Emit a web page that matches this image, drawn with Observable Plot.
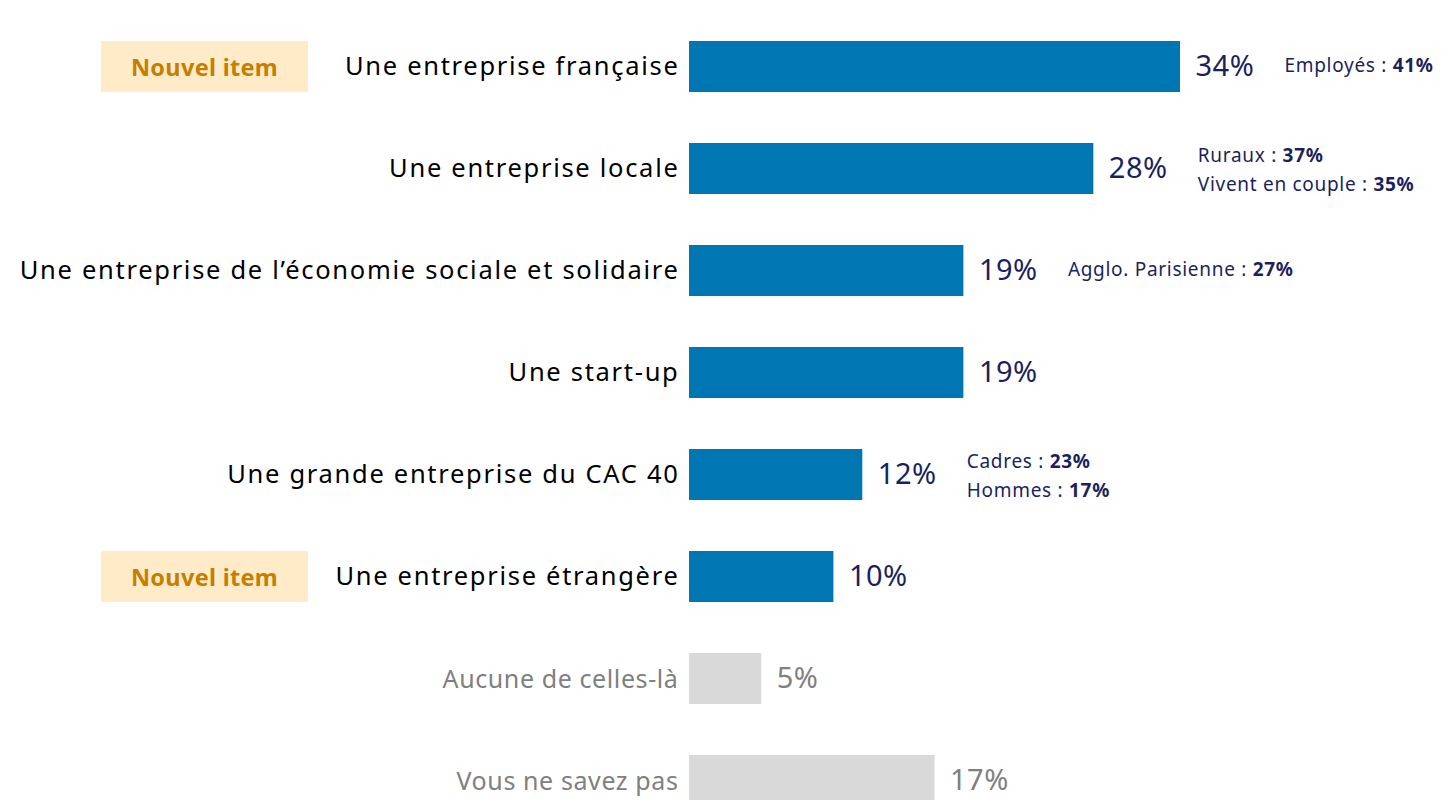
<!DOCTYPE html>
<html>
<head>
<meta charset="utf-8">
<script src="https://cdn.jsdelivr.net/npm/d3@7"></script>
<script src="https://cdn.jsdelivr.net/npm/@observablehq/plot@0.6"></script>
<style>
  html, body { margin: 0; padding: 0; background: #ffffff; overflow: hidden; }
  #chart svg { display: block; }
  #chart .cat text { letter-spacing: 1.7px; }
  #chart .catgrey text { letter-spacing: 0.6px; }
  #chart .val text { letter-spacing: 0.5px; }
  #chart .annot text { letter-spacing: 0.7px; }
  #chart .badge text { letter-spacing: 0.3px; }
</style>
</head>
<body>
<div id="chart"></div>
<script>
// ---- Data ----
const categories = [
  "Une entreprise française",
  "Une entreprise locale",
  "Une entreprise de l’économie sociale et solidaire",
  "Une start-up",
  "Une grande entreprise du CAC 40",
  "Une entreprise étrangère",
  "Aucune de celles-là",
  "Vous ne savez pas"
];
const values = [34, 28, 19, 19, 12, 10, 5, 17];
const isItem = [true, true, true, true, true, true, false, false];

const newItems = ["Une entreprise française", "Une entreprise étrangère"];
const badgeText = "Nouvel item";

const annotCategory = [
  "Une entreprise française",
  "Une entreprise locale",
  "Une entreprise locale",
  "Une entreprise de l’économie sociale et solidaire",
  "Une grande entreprise du CAC 40",
  "Une grande entreprise du CAC 40"
];
const annotLabel = ["Employés", "Ruraux", "Vivent en couple", "Agglo. Parisienne", "Cadres", "Hommes"];
const annotValue = [41, 37, 35, 27, 23, 17];

// ---- Tables ----
const rows = categories.map((c, i) => ({category: c, value: values[i], item: isItem[i]}));
const valueOf = new Map(rows.map(r => [r.category, r.value]));
const annots = annotCategory.map((c, i) => {
  const sameCat = annotCategory.filter(d => d === c).length;
  const lineIdx = annotCategory.slice(0, i).filter(d => d === c).length;
  return {category: c, label: annotLabel[i], value: annotValue[i], x: valueOf.get(c),
          offset: lineIdx - (sameCat - 1) / 2};
});

const BLUE = "#0077B3", GREY_BAR = "#D9D9D9", NAVY = "#1B1F5E", GREY_TXT = "#808080";
const FONT = "Noto Sans, sans-serif";

const plot = Plot.plot({
  width: 1445,
  height: 800,
  marginLeft: 689,
  marginRight: 265,
  marginTop: 0,
  marginBottom: 0,
  style: {fontFamily: FONT, background: "#ffffff"},
  x: {domain: [0, 34], axis: null},
  y: {domain: categories, range: [15.5, 831.5], paddingInner: 0.5, paddingOuter: 0.25, axis: null},
  marks: [
    Plot.barX(rows.filter(d => d.item), {x: "value", y: "category", fill: BLUE}),
    Plot.barX(rows.filter(d => !d.item), {x: "value", y: "category", fill: GREY_BAR}),
    // category labels
    Plot.text(rows.filter(d => d.item), {
      y: "category", text: "category", frameAnchor: "left", textAnchor: "end", dx: -10,
      fontSize: 25.5, fill: "#000000", ariaDescription: "cat"
    }),
    Plot.text(rows.filter(d => !d.item), {
      y: "category", text: "category", frameAnchor: "left", textAnchor: "end", dx: -11, dy: 1,
      fontSize: 25, fill: GREY_TXT, ariaDescription: "catgrey"
    }),
    // value labels
    Plot.text(rows, {
      x: "value", y: "category", text: d => d.value + "%", textAnchor: "start", dx: 15,
      fontSize: 29, fill: d => d.item ? NAVY : GREY_TXT, ariaDescription: "val"
    }),
    // annotations
    Plot.text(annots, {
      x: "x", y: "category", text: d => d.label + " : ", textAnchor: "start", dx: 104,
      fontSize: 19, fill: NAVY, ariaDescription: "annot"
    }),
    // badges
    Plot.text(newItems, {
      y: d => d, text: () => badgeText, frameAnchor: "left", textAnchor: "middle", dx: -485, dy: 1,
      fontSize: 23.5, fontWeight: "bold", fill: "#C47F00", ariaDescription: "badge"
    })
  ]
});

document.getElementById("chart").appendChild(plot);

const svg = d3.select(plot);
["cat", "catgrey", "val", "annot", "badge"].forEach(name => {
  svg.selectAll(`g[aria-description='${name}']`).classed(name, true);
});

// offset annotation lines and add bold values
svg.selectAll("g.annot text").each(function(d, k) {
  const i = typeof d === "number" ? d : k;
  const a = annots[i];
  const el = d3.select(this);
  el.text(null);
  el.append("tspan").text(a.label + " : ");
  el.append("tspan").attr("font-weight", "bold").text(a.value + "%");
  const t = el.attr("transform") || "";
  el.attr("transform", t + ` translate(0,${a.offset * 29 + (a.offset !== 0 ? 1.5 : -1)})`);
});

// badge rectangles behind badge text
const yScale = plot.scale("y");
svg.selectAll("g.badge text").each(function(d, k) {
  const i = typeof d === "number" ? d : k;
  const bb = this.getBBox();
  const ctm = this.getCTM();
  const cx = ctm.e + bb.x + bb.width / 2;
  const yTop = yScale.apply(newItems[i]);
  const bw = yScale.bandwidth;
  svg.insert("rect", ":first-child")
    .attr("x", cx - 103.5).attr("width", 207)
    .attr("y", yTop).attr("height", bw)
    .attr("fill", "#FFEBC8");
});
</script>
</body>
</html>
